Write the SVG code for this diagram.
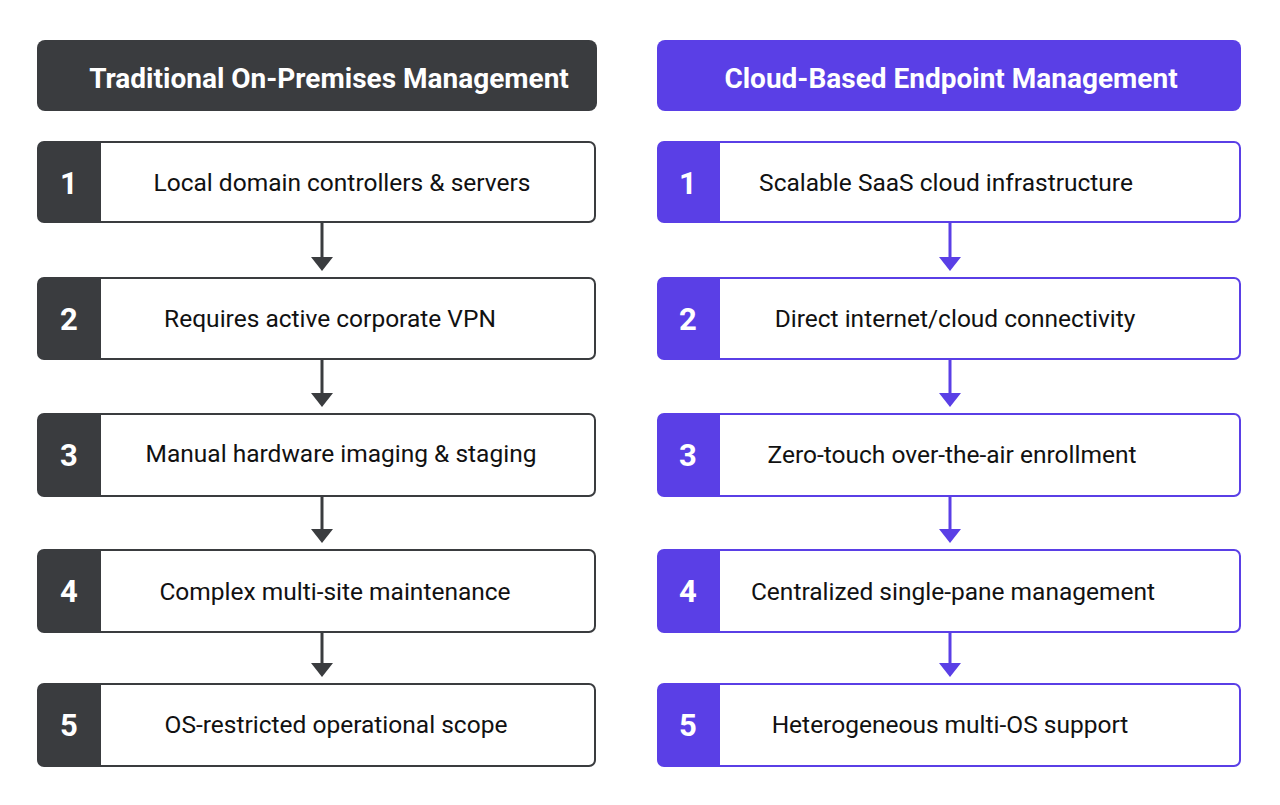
<svg xmlns="http://www.w3.org/2000/svg" width="1280" height="805" viewBox="0 0 1280 805">
<defs>
<style>
.hdr{font-family:Roboto,"Liberation Sans",sans-serif;font-weight:bold;font-size:28px;fill:#fff;text-anchor:middle}
.num{font-family:Roboto,"Liberation Sans",sans-serif;font-weight:bold;font-size:31px;fill:#fff;text-anchor:middle}
.lbl{font-family:Roboto,"Liberation Sans",sans-serif;font-size:24.5px;fill:#111;text-anchor:middle}
.boxL{fill:#fff;stroke:#3a3c3f;stroke-width:2}
.boxR{fill:#fff;stroke:#5a3fe6;stroke-width:2}
.tabL{fill:#3a3c3f}
.tabR{fill:#5a3fe6}
.cL{stroke:#3a3c3f;stroke-width:3;fill:none}
.cR{stroke:#5a3fe6;stroke-width:3;fill:none}
</style>
</defs>
<rect width="1280" height="805" fill="#fff"/>

<g id="headerL"><rect x="37" y="40" width="560" height="71" rx="8" fill="#3a3c3f"/><text class="hdr" x="329" y="88">Traditional On-Premises Management</text></g>
<g id="headerR"><rect x="657" y="40" width="584" height="71" rx="8" fill="#5a3fe6"/><text class="hdr" x="951" y="88">Cloud-Based Endpoint Management</text></g>

<g id="connectors">
<path class="cL" d="M322 223 V258" /><path d="M311 257 L333 257 L322 271 Z" fill="#3a3c3f"/>
<path class="cL" d="M322 360 V394" /><path d="M311 393 L333 393 L322 407 Z" fill="#3a3c3f"/>
<path class="cL" d="M322 497 V530" /><path d="M311 529 L333 529 L322 543 Z" fill="#3a3c3f"/>
<path class="cL" d="M322 633 V664" /><path d="M311 663 L333 663 L322 677 Z" fill="#3a3c3f"/>
<path class="cR" d="M950 223 V258" /><path d="M939 257 L961 257 L950 271 Z" fill="#5a3fe6"/>
<path class="cR" d="M950 360 V394" /><path d="M939 393 L961 393 L950 407 Z" fill="#5a3fe6"/>
<path class="cR" d="M950 497 V530" /><path d="M939 529 L961 529 L950 543 Z" fill="#5a3fe6"/>
<path class="cR" d="M950 633 V664" /><path d="M939 663 L961 663 L950 677 Z" fill="#5a3fe6"/>
</g>

<g id="L1"><rect class="boxL" x="38" y="142" width="557" height="80" rx="6"/><path class="tabL" d="M44 142 H101 V222 H44 A6 6 0 0 1 38 216 V148 A6 6 0 0 1 44 142 Z"/><text class="num" x="69" y="194">1</text><text class="lbl" x="342" y="191">Local domain controllers &amp; servers</text></g>
<g id="L2"><rect class="boxL" x="38" y="278" width="557" height="81" rx="6"/><path class="tabL" d="M44 278 H101 V359 H44 A6 6 0 0 1 38 353 V284 A6 6 0 0 1 44 278 Z"/><text class="num" x="69" y="330">2</text><text class="lbl" x="330" y="327">Requires active corporate VPN</text></g>
<g id="L3"><rect class="boxL" x="38" y="414" width="557" height="82" rx="6"/><path class="tabL" d="M44 414 H101 V496 H44 A6 6 0 0 1 38 490 V420 A6 6 0 0 1 44 414 Z"/><text class="num" x="69" y="466">3</text><text class="lbl" x="341" y="462">Manual hardware imaging &amp; staging</text></g>
<g id="L4"><rect class="boxL" x="38" y="550" width="557" height="82" rx="6"/><path class="tabL" d="M44 550 H101 V632 H44 A6 6 0 0 1 38 626 V556 A6 6 0 0 1 44 550 Z"/><text class="num" x="69" y="602">4</text><text class="lbl" x="335" y="600">Complex multi-site maintenance</text></g>
<g id="L5"><rect class="boxL" x="38" y="684" width="557" height="82" rx="6"/><path class="tabL" d="M44 684 H101 V766 H44 A6 6 0 0 1 38 760 V690 A6 6 0 0 1 44 684 Z"/><text class="num" x="69" y="736">5</text><text class="lbl" x="336" y="733">OS-restricted operational scope</text></g>

<g id="R1"><rect class="boxR" x="658" y="142" width="582" height="80" rx="6"/><path class="tabR" d="M664 142 H720 V222 H664 A6 6 0 0 1 658 216 V148 A6 6 0 0 1 664 142 Z"/><text class="num" x="688" y="194">1</text><text class="lbl" x="946" y="191">Scalable SaaS cloud infrastructure</text></g>
<g id="R2"><rect class="boxR" x="658" y="278" width="582" height="81" rx="6"/><path class="tabR" d="M664 278 H720 V359 H664 A6 6 0 0 1 658 353 V284 A6 6 0 0 1 664 278 Z"/><text class="num" x="688" y="330">2</text><text class="lbl" x="955" y="327">Direct internet/cloud connectivity</text></g>
<g id="R3"><rect class="boxR" x="658" y="414" width="582" height="82" rx="6"/><path class="tabR" d="M664 414 H720 V496 H664 A6 6 0 0 1 658 490 V420 A6 6 0 0 1 664 414 Z"/><text class="num" x="688" y="466">3</text><text class="lbl" x="952" y="463">Zero-touch over-the-air enrollment</text></g>
<g id="R4"><rect class="boxR" x="658" y="550" width="582" height="82" rx="6"/><path class="tabR" d="M664 550 H720 V632 H664 A6 6 0 0 1 658 626 V556 A6 6 0 0 1 664 550 Z"/><text class="num" x="688" y="602">4</text><text class="lbl" x="953" y="600">Centralized single-pane management</text></g>
<g id="R5"><rect class="boxR" x="658" y="684" width="582" height="82" rx="6"/><path class="tabR" d="M664 684 H720 V766 H664 A6 6 0 0 1 658 760 V690 A6 6 0 0 1 664 684 Z"/><text class="num" x="688" y="736">5</text><text class="lbl" x="950" y="733">Heterogeneous multi-OS support</text></g>
</svg>
